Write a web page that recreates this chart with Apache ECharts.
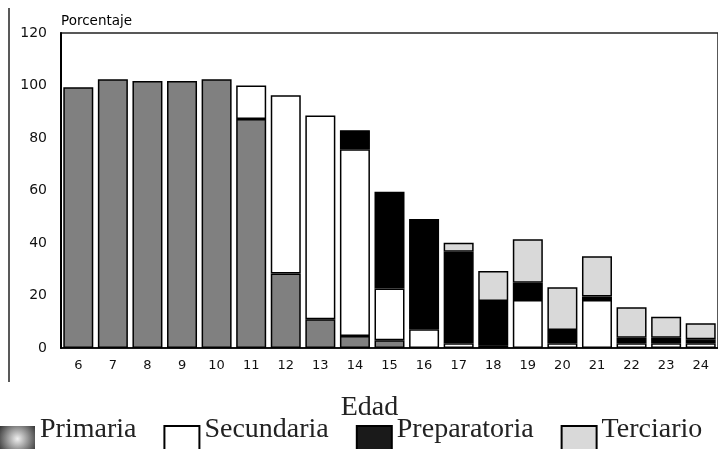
<!DOCTYPE html>
<html><head><meta charset="utf-8">
<script src="https://cdn.jsdelivr.net/npm/echarts@6/dist/echarts.min.js"></script>
<style>html,body{margin:0;padding:0;background:#fff}#c{width:718px;height:449px}</style>
</head><body><div id="c"></div>
<script>
const edades = ['6','7','8','9','10','11','12','13','14','15','16','17','18','19','20','21','22','23','24'];
const yTicks = [0, 20, 40, 60, 80, 100, 120];
const primaria     = [99.3, 102.4, 101.7, 101.7, 102.4, 87.2, 28.4, 11.0, 4.6, 3.0, null, null, null, null, null, null, null, null, null];
const secundaria   = [null, null, null, null, null, 12.8, 67.9, 77.6, 71.1, 19.7, 7.1, 1.8, 1.1, 18.3, 1.8, 18.3, 1.8, 1.8, 1.8];
const preparatoria = [null, null, null, null, null, null, null, null, 7.3, 36.8, 42.0, 34.9, 16.8, 6.6, 5.1, 1.3, 2.1, 2.1, 1.5];
const terciario    = [null, null, null, null, null, null, null, null, null, null, null, 3.4, 11.4, 16.5, 16.2, 15.4, 11.6, 8.0, 6.1];

const chart = echarts.init(document.getElementById('c'), null, {renderer: 'canvas'});
const border = {borderColor: '#000', borderWidth: 1.5};
function bar(name, data, color) {
  return {
    name: name, type: 'bar', stack: 'total', data: data, barWidth: 30,
    itemStyle: Object.assign({color: color}, border)
  };
}
const legendIcon = 'path://M0,0 M0,18 L35,18 L35,44 L0,44 Z';
chart.setOption({
  animation: false,
  grid: {left: 61, top: 33, right: -8, bottom: 101, show: true, borderColor: '#222', borderWidth: 1.5, backgroundColor: 'transparent'},
  xAxis: {
    type: 'category', data: edades,
    axisTick: {show: false},
    axisLine: {lineStyle: {color: '#000', width: 1.5}},
    axisLabel: {color: '#111', fontFamily: 'DejaVu Sans', fontSize: 13, margin: 11, interval: 0},
    name: 'Edad', nameLocation: 'middle', nameGap: 46,
    nameTextStyle: {fontFamily: 'Liberation Serif', fontSize: 28, color: '#222', padding: [0, 40, 0, 0]}
  },
  yAxis: {
    type: 'value', min: yTicks[0], max: yTicks[yTicks.length - 1], interval: 20,
    splitLine: {show: false},
    axisTick: {show: false},
    axisLine: {show: true, lineStyle: {color: '#000', width: 2}},
    axisLabel: {color: '#111', fontFamily: 'DejaVu Sans', fontSize: 14, margin: 14},
    name: 'Porcentaje', nameLocation: 'end', nameGap: 5,
    nameTextStyle: {fontFamily: 'DejaVu Sans', fontSize: 13.5, color: '#000', align: 'left', verticalAlign: 'bottom'}
  },
  legend: {
    left: 0, top: 407, padding: 0, itemWidth: 35, itemHeight: 44, itemGap: 27, selectedMode: false,
    icon: legendIcon,
    textStyle: {fontFamily: 'Liberation Serif', fontSize: 28, color: '#222'},
    data: [
      {name: 'Primaria', itemStyle: {borderWidth: 0, color: {type: 'radial', x: 0.5, y: 0.7, r: 0.6, colorStops: [{offset: 0, color: '#f0f0f0'}, {offset: 1, color: '#3a3a3a'}]}}},
      {name: 'Secundaria', itemStyle: {borderWidth: 2}},
      {name: 'Preparatoria', itemStyle: {color: '#1a1a1a'}},
      {name: 'Terciario', itemStyle: {borderWidth: 2}}
    ]
  },
  graphic: [{type: 'line', shape: {x1: 9, y1: 8, x2: 9, y2: 382}, style: {stroke: '#222', lineWidth: 1.5}}],
  series: [
    bar('Primaria', primaria, '#808080'),
    bar('Secundaria', secundaria, '#ffffff'),
    bar('Preparatoria', preparatoria, '#000000'),
    bar('Terciario', terciario, '#d9d9d9')
  ]
});
</script></body></html>
